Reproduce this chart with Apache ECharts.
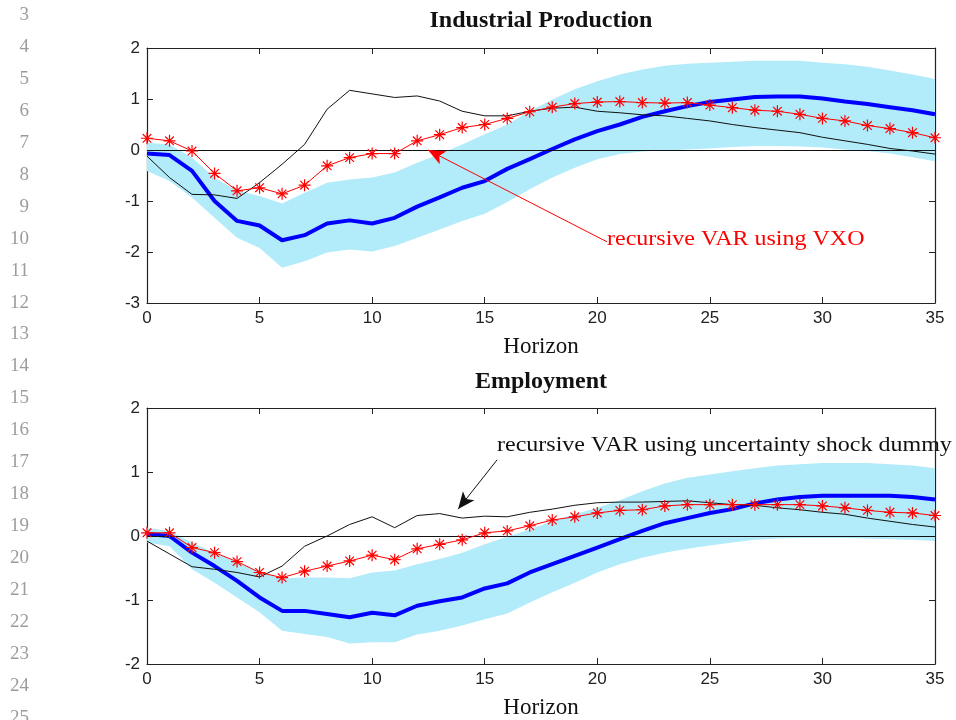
<!DOCTYPE html>
<html>
<head>
<meta charset="utf-8">
<script src="https://cdn.jsdelivr.net/npm/echarts@6/dist/echarts.min.js"></script>
<style>html,body{margin:0;padding:0;background:#fff;}#c{width:956px;height:720px;}</style>
</head>
<body>
<div id="c"></div>
<script>
// ---- data ----
const horizon = [0,1,2,3,4,5,6,7,8,9,10,11,12,13,14,15,16,17,18,19,20,21,22,23,24,25,26,27,28,29,30,31,32,33,34,35];
const xTicks = [0,5,10,15,20,25,30,35];
const lineNumbers = [3,4,5,6,7,8,9,10,11,12,13,14,15,16,17,18,19,20,21,22,23,24,25];

// Industrial Production
const ipBlue  = [-0.07,-0.10,-0.41,-1.00,-1.39,-1.48,-1.77,-1.67,-1.44,-1.38,-1.44,-1.33,-1.11,-0.93,-0.74,-0.61,-0.37,-0.18,0.02,0.21,0.37,0.50,0.65,0.76,0.86,0.94,0.99,1.04,1.05,1.05,1.01,0.95,0.90,0.84,0.78,0.70];
const ipRed   = [0.23,0.18,-0.02,-0.46,-0.80,-0.74,-0.86,-0.69,-0.31,-0.15,-0.07,-0.07,0.18,0.30,0.44,0.50,0.62,0.75,0.84,0.91,0.94,0.95,0.93,0.92,0.93,0.88,0.83,0.78,0.76,0.70,0.62,0.57,0.48,0.42,0.34,0.24];
const ipBlack = [-0.12,-0.54,-0.87,-0.88,-0.95,-0.64,-0.28,0.11,0.80,1.17,1.10,1.03,1.06,0.96,0.76,0.67,0.67,0.76,0.82,0.84,0.76,0.73,0.69,0.67,0.62,0.57,0.50,0.44,0.39,0.34,0.25,0.18,0.11,0.03,-0.02,-0.08];
const ipUpper = [0.14,0.11,-0.15,-0.54,-0.80,-0.90,-1.05,-0.84,-0.64,-0.58,-0.54,-0.44,-0.25,-0.08,0.11,0.31,0.50,0.76,0.99,1.19,1.35,1.48,1.58,1.65,1.69,1.71,1.73,1.75,1.75,1.75,1.71,1.68,1.63,1.56,1.48,1.39];
const ipLower = [-0.41,-0.61,-0.93,-1.33,-1.72,-1.92,-2.31,-2.18,-2.01,-1.95,-1.99,-1.88,-1.72,-1.56,-1.39,-1.25,-1.02,-0.77,-0.54,-0.35,-0.18,-0.08,-0.03,-0.01,0.01,0.03,0.06,0.08,0.08,0.07,0.05,0.01,-0.02,-0.07,-0.14,-0.22];

// Employment
const empBlue  = [0.03,0.00,-0.26,-0.47,-0.70,-0.96,-1.17,-1.17,-1.22,-1.27,-1.20,-1.24,-1.09,-1.02,-0.96,-0.82,-0.74,-0.57,-0.44,-0.31,-0.18,-0.05,0.08,0.20,0.28,0.36,0.42,0.51,0.57,0.61,0.63,0.63,0.63,0.63,0.61,0.57];
const empRed   = [0.05,0.05,-0.18,-0.26,-0.40,-0.57,-0.65,-0.55,-0.47,-0.39,-0.30,-0.37,-0.20,-0.13,-0.06,0.05,0.08,0.16,0.25,0.30,0.36,0.40,0.41,0.47,0.49,0.49,0.49,0.49,0.49,0.49,0.47,0.44,0.40,0.37,0.36,0.32];
const empBlack = [-0.08,-0.28,-0.48,-0.52,-0.57,-0.64,-0.47,-0.16,0.00,0.18,0.30,0.13,0.32,0.35,0.28,0.31,0.30,0.37,0.42,0.48,0.52,0.53,0.53,0.54,0.55,0.52,0.49,0.48,0.44,0.41,0.37,0.34,0.28,0.23,0.18,0.14];
const empUpper = [0.13,0.08,-0.10,-0.26,-0.41,-0.57,-0.66,-0.65,-0.65,-0.66,-0.57,-0.54,-0.44,-0.36,-0.26,-0.13,-0.01,0.10,0.23,0.34,0.44,0.56,0.70,0.82,0.91,0.96,1.01,1.06,1.10,1.12,1.14,1.14,1.14,1.12,1.10,1.06];
const empLower = [-0.10,-0.16,-0.52,-0.73,-0.96,-1.19,-1.48,-1.53,-1.58,-1.68,-1.66,-1.66,-1.54,-1.48,-1.40,-1.30,-1.21,-1.04,-0.88,-0.73,-0.57,-0.44,-0.34,-0.26,-0.20,-0.15,-0.10,-0.06,-0.04,-0.03,-0.03,-0.03,-0.04,-0.05,-0.06,-0.08];

const titles = ['Industrial Production', 'Employment'];
const xName = 'Horizon';
const noteVXO = 'recursive VAR using VXO';
const noteDummy = 'recursive VAR using uncertainty shock dummy';
// annotation arrows (data coordinates: [horizon, value])
const arrowVXO = [[20.43, -1.80], [12.48, 0.0]];
const arrowDummy = [[15.55, 1.19], [13.82, 0.42]];

// ---- styles ----
const SERIF = '"Liberation Serif", "Times New Roman", serif';
const SANS = '"Liberation Sans", Arial, sans-serif';
const BAND = '#b2ebf9';
const AXC = '#222';

const pairs = arr => horizon.map((h, i) => [h, arr[i]]);

function xAxes(grid) {
  const base = {
    gridIndex: grid, type: 'value', min: 0, max: 35, interval: 5,
    axisLine: { show: true, onZero: false, lineStyle: { color: AXC, width: 1.2 } },
    axisTick: { show: true, inside: true, length: 6, lineStyle: { color: AXC, width: 1 } },
    splitLine: { show: false }
  };
  return [
    Object.assign({}, base, {
      position: 'bottom',
      axisLabel: { show: true, margin: 7, color: AXC, fontFamily: SANS, fontSize: 17,
        formatter: v => (xTicks.indexOf(v) >= 0 ? String(v) : '') },
      name: xName, nameLocation: 'middle', nameGap: 32,
      nameTextStyle: { fontFamily: SERIF, fontSize: 23, color: '#111' }
    }),
    Object.assign({}, base, { position: 'top', axisLabel: { show: false } })
  ];
}
function yAxes(grid, min, max) {
  const base = {
    gridIndex: grid, type: 'value', min: min, max: max, interval: 1,
    axisLine: { show: true, onZero: false, lineStyle: { color: AXC, width: 1.2 } },
    axisTick: { show: true, inside: true, length: 6, lineStyle: { color: AXC, width: 1 } },
    splitLine: { show: false }
  };
  return [
    Object.assign({}, base, { position: 'left',
      axisLabel: { show: true, margin: 7, color: AXC, fontFamily: SANS, fontSize: 17 } }),
    Object.assign({}, base, { position: 'right', axisLabel: { show: false } })
  ];
}

const STAR = 'path://M0,-6L0,6M-6,0L6,0M-4.3,-4.3L4.3,4.3M-4.3,4.3L4.3,-4.3';

function bandSeries(xi, yi, upper, lower) {
  return {
    type: 'custom', xAxisIndex: xi, yAxisIndex: yi, silent: true, z: 1,
    data: horizon.map((h, i) => [h, lower[i], upper[i]]),
    encode: { x: 0, y: [1, 2] },
    renderItem: function (params, api) {
      if (params.dataIndex !== 0) return null;
      const pts = [];
      for (let i = 0; i < horizon.length; i++) pts.push(api.coord([horizon[i], upper[i]]));
      for (let i = horizon.length - 1; i >= 0; i--) pts.push(api.coord([horizon[i], lower[i]]));
      return { type: 'polygon', shape: { points: pts }, style: { fill: BAND, stroke: null } };
    }
  };
}

function panelSeries(xi, yi, blue, red, black, upper, lower, arrow, arrowColor) {
  return [
    bandSeries(xi, yi, upper, lower),
    { type: 'line', xAxisIndex: xi, yAxisIndex: yi, data: pairs(blue), symbol: 'none',
      lineStyle: { color: '#0000ff', width: 4 }, z: 3 },
    { type: 'line', xAxisIndex: xi, yAxisIndex: yi, data: pairs(black), symbol: 'none',
      lineStyle: { color: '#111', width: 1 }, z: 4,
      markLine: { silent: true, animation: false, symbol: 'none', label: { show: false },
        lineStyle: { color: '#111', width: 1, type: 'solid' },
        data: [{ yAxis: 0 }] } },
    { type: 'line', xAxisIndex: xi, yAxisIndex: yi, data: pairs(red), symbol: STAR, symbolSize: 12,
      showAllSymbol: true,
      itemStyle: { color: '#ff0000', borderColor: '#ff0000', borderWidth: 1.2 },
      lineStyle: { color: '#ff0000', width: 1 }, z: 5,
      markLine: { silent: true, animation: false, label: { show: false }, symbolSize: [11, 17],
        lineStyle: { color: arrowColor, width: 1, type: 'solid' },
        itemStyle: { color: arrowColor },
        data: [[ { coord: arrow[0], symbol: 'none' }, { coord: arrow[1], symbol: 'arrow' } ]] } }
  ];
}

const lineNumGraphics = lineNumbers.map((n, i) => ({
  type: 'text', x: 29, y: 15 + i * 31.95, silent: true,
  style: { text: String(n), fill: '#9c9c9c', font: '19px ' + SERIF,
    align: 'right', verticalAlign: 'middle', textAlign: 'right', textVerticalAlign: 'middle' }
}));

const option = {
  animation: false,
  backgroundColor: '#ffffff',
  title: [
    { text: titles[0], left: 541, top: 9, textAlign: 'center', padding: 0,
      textStyle: { fontFamily: SERIF, fontSize: 24, fontWeight: 'bold', color: '#111' } },
    { text: titles[1], left: 541, top: 370, textAlign: 'center', padding: 0,
      textStyle: { fontFamily: SERIF, fontSize: 24, fontWeight: 'bold', color: '#111' } }
  ],
  grid: [
    { left: 147, top: 48, width: 788, height: 255, containLabel: false },
    { left: 147, top: 408, width: 788, height: 256, containLabel: false }
  ],
  xAxis: [].concat(xAxes(0), xAxes(1)),
  yAxis: [].concat(yAxes(0, -3, 2), yAxes(1, -2, 2)),
  series: [].concat(
    panelSeries(0, 0, ipBlue, ipRed, ipBlack, ipUpper, ipLower, arrowVXO, '#ff0000'),
    panelSeries(2, 2, empBlue, empRed, empBlack, empUpper, empLower, arrowDummy, '#111')
  ),
  graphic: [].concat(lineNumGraphics, [
    { type: 'text', x: 607, y: 240, scaleX: 1.2, silent: true, z: 100,
      style: { text: noteVXO, fill: '#ff0000', font: '20px ' + SERIF,
        align: 'left', verticalAlign: 'middle', textAlign: 'left', textVerticalAlign: 'middle' } },
    { type: 'text', x: 497, y: 446, scaleX: 1.2, silent: true, z: 100,
      style: { text: noteDummy, fill: '#111', font: '20px ' + SERIF,
        align: 'left', verticalAlign: 'middle', textAlign: 'left', textVerticalAlign: 'middle' } }
  ])
};

const chart = echarts.init(document.getElementById('c'), null, { renderer: 'canvas' });
chart.setOption(option);
</script>
</body>
</html>
